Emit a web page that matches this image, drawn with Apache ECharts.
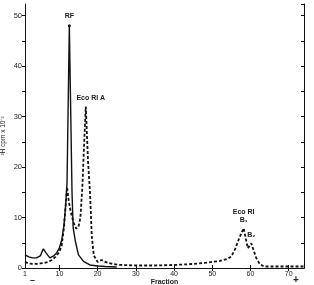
<!DOCTYPE html>
<html>
<head>
<meta charset="utf-8">
<script src="https://cdn.jsdelivr.net/npm/echarts@6/dist/echarts.min.js"></script>
<style>
  html, body { margin: 0; padding: 0; background: #fff; }
  #chart { width: 314px; height: 285px; }
</style>
</head>
<body>
<div id="chart"></div>
<script>
// ³H profile: RF (solid) and Eco RI digest (dashed)

const rfPoints = [
  [1, 2.6], [2, 2.2], [3, 2.0], [4, 2.0], [5, 2.4], [5.8, 3.8], [6.5, 3.0],
  [7.5, 2.0], [8.5, 2.4], [9.3, 3.0], [10, 4.0], [10.6, 5.5], [11.2, 8.5],
  [11.6, 12], [12, 17], [12.6, 48], [13.3, 15], [13.6, 8], [14.2, 5.2],
  [15, 2.6], [16.3, 1.3], [18, 0.6], [20, 0.4], [22, 0.3], [25, 0.2]
];

const ecoPoints = [
  [1, 1.2], [2, 0.9], [3, 0.8], [4, 0.8], [5, 0.9], [6, 1.0], [7, 1.2],
  [8, 1.6], [9, 2.2], [10, 3.2], [10.6, 4.5], [11.2, 8], [11.6, 12], [12, 16],
  [12.5, 13], [13, 11], [13.7, 9], [14.4, 7.8], [15, 8.2], [15.5, 10], [16, 16],
  [16.5, 25], [16.9, 32], [17.5, 21], [18, 15], [18.5, 6], [19, 2.5], [20, 1.2],
  [21, 1.6], [22, 1.2], [23, 1.0], [24, 0.8], [26, 0.6], [30, 0.5], [35, 0.5],
  [40, 0.6], [45, 0.8], [48, 1.0], [50, 1.2], [52, 1.4], [54, 1.8], [55, 2.3],
  [56, 3.8], [57, 5.8], [58.2, 7.9], [59.3, 3.9], [60.2, 4.9], [61.5, 2.0],
  [62.4, 0.8], [63.5, 0.3], [68, 0.3], [74, 0.3]
];

// peak labels: index into the series, text
const rfLabels = [[15, 'RF']];
const ecoLabels = [[22, 'Eco RI A'], [44, 'Eco RI\nB\u2081'], [46, 'B\u2082']];

const xLabelValues = [1, 10, 20, 30, 40, 50, 60, 70];
const xTickValues = [10, 20, 30, 40, 50, 60, 70];

const FONT = 'Liberation Sans';

function withLabels(points, labels, dot) {
  const out = points.map(p => ({ value: p }));
  labels.forEach(([i, text]) => {
    out[i] = {
      value: points[i],
      symbolSize: dot ? 3 : 0,
      label: {
        show: true,
        formatter: text,
        position: 'top',
        distance: 4,
        fontFamily: FONT,
        fontSize: 7,
        fontWeight: 'bold',
        color: '#222',
        lineHeight: 8,
        offset: text === 'Eco RI A' ? [5, 0] : [0, 0]
      }
    };
  });
  return out;
}

const chart = echarts.init(document.getElementById('chart'));

const axisLine = { show: true, lineStyle: { color: '#111', width: 1 } };

chart.setOption({
  animation: false,
  backgroundColor: '#fff',
  grid: { left: 25, right: 10, top: 4, bottom: 17, outerBoundsMode: 'none', containLabel: false },
  xAxis: [{
    type: 'value', min: 1, max: 74, position: 'bottom',
    axisLine,
    splitLine: { show: false },
    axisTick: { inside: true, length: 3, customValues: xTickValues, lineStyle: { color: '#111' } },
    axisLabel: { customValues: xLabelValues, fontFamily: FONT, fontSize: 7, color: '#222', margin: 3 },
    name: 'Fraction', nameLocation: 'middle', nameGap: 11, nameMoveOverlap: false,
    nameTextStyle: { fontFamily: FONT, fontSize: 7, fontWeight: 'bold', color: '#222' }
  }, {
    type: 'value', min: 1, max: 74, position: 'top',
    axisLine, splitLine: { show: false },
    axisTick: { inside: true, length: 3, customValues: xTickValues, lineStyle: { color: '#111' } },
    axisLabel: { show: false }
  }],
  yAxis: [{
    type: 'value', min: 0, max: 52.3, interval: 5, position: 'left',
    axisLine, splitLine: { show: false },
    axisTick: { length: 3, lineStyle: { color: '#111' } },
    axisLabel: {
      fontFamily: FONT, fontSize: 7.5, color: '#222', margin: 3, showMaxLabel: false,
      formatter: v => (v % 10 === 0 ? String(v) : '')
    },
    name: '\u00b3H cpm x 10\u207b\u00b2', nameLocation: 'middle', nameGap: 18, nameMoveOverlap: false,
    nameTextStyle: { fontFamily: FONT, fontSize: 6.5, color: '#222' }
  }, {
    type: 'value', min: 0, max: 52.3, interval: 5, position: 'right',
    axisLine, splitLine: { show: false },
    axisTick: { inside: true, length: 3, lineStyle: { color: '#111' } },
    axisLabel: { show: false }
  }],
  graphic: [
    { type: 'text', left: 30, top: 276, style: { text: '\u2013', font: 'bold 9px ' + FONT, fill: '#222' } },
    { type: 'text', left: 293, top: 275, style: { text: '+', font: 'bold 10px ' + FONT, fill: '#222' } }
  ],
  series: [{
    name: 'RF', type: 'line',
    data: withLabels(rfPoints, rfLabels, true),
    symbol: 'circle', symbolSize: 0, showSymbol: true,
    itemStyle: { color: '#111' },
    lineStyle: { color: '#111', width: 1.4 },
    z: 3
  }, {
    name: 'Eco RI', type: 'line',
    data: withLabels(ecoPoints, ecoLabels, false),
    symbol: 'circle', symbolSize: 0, showSymbol: true,
    itemStyle: { color: '#111' },
    lineStyle: { color: '#111', width: 1.8, type: [3, 2] },
    z: 2
  }]
});
</script>
</body>
</html>
